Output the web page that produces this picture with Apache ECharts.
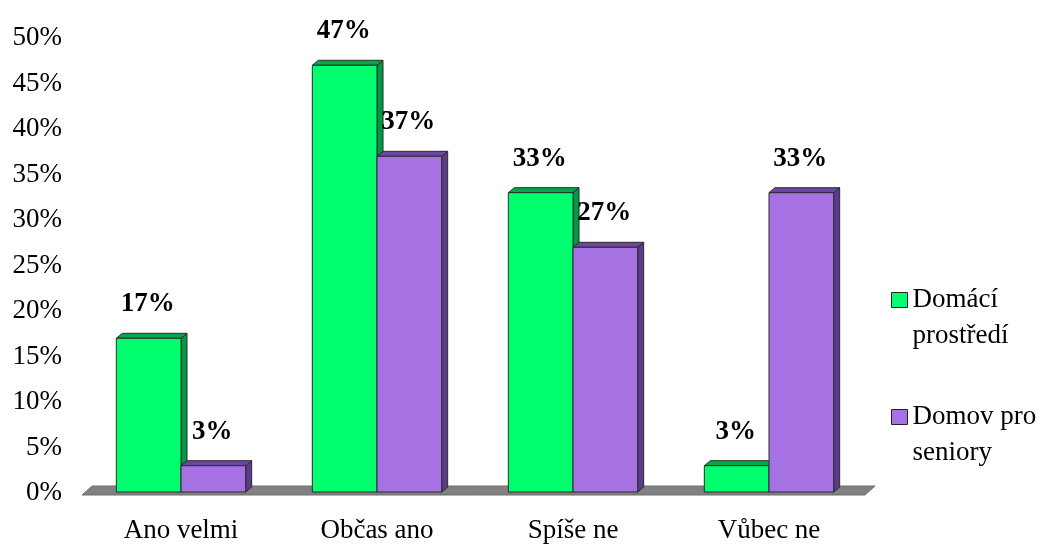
<!DOCTYPE html>
<html>
<head>
<meta charset="utf-8">
<script src="https://cdn.jsdelivr.net/npm/echarts@6/dist/echarts.min.js"></script>
<style>
  html, body { margin: 0; padding: 0; background: #fff; }
  #chart { width: 1045px; height: 544px; }
</style>
</head>
<body>
<div id="chart"></div>
<script>
// Answers by category, in percent
const categories = ['Ano velmi', 'Občas ano', 'Spíše ne', 'Vůbec ne'];
const homeValues = [17, 47, 33, 3];      // Domácí prostředí
const seniorValues = [3, 37, 27, 33];    // Domov pro seniory
const seriesNames = ['Domácí prostředí', 'Domov pro seniory'];

const FONT = '"Liberation Serif", "Times New Roman", serif';
const palette = [
  { front: '#00FF6E', side: '#009A44', top: '#00A84A' },
  { front: '#A671E2', side: '#5A3C8C', top: '#6B47A3' }
];
const DEPTH_X = 6, DEPTH_Y = 5;

// Draws one bar as a box: front face, top face and right side face
function makeBarRenderer(seriesIdx) {
  return function (params, api) {
    const cat = api.value(0);
    const val = api.value(1);
    const base = api.coord([cat, 0]);
    const topPt = api.coord([cat, val]);
    const band = api.size([1, 0])[0];
    const w = band * 0.33;
    const x0 = seriesIdx === 0 ? base[0] - w : base[0];
    const x1 = x0 + w;
    const yb = base[1] - 1;
    const yt = topPt[1];
    const c = palette[seriesIdx];
    const stroke = { stroke: '#2b2b2b', lineWidth: 1 };
    return {
      type: 'group',
      children: [
        {
          type: 'polygon',
          shape: { points: [[x1, yb], [x1 + DEPTH_X, yb - DEPTH_Y], [x1 + DEPTH_X, yt - DEPTH_Y], [x1, yt]] },
          style: Object.assign({ fill: c.side }, stroke)
        },
        {
          type: 'polygon',
          shape: { points: [[x0, yt], [x0 + DEPTH_X, yt - DEPTH_Y], [x1 + DEPTH_X, yt - DEPTH_Y], [x1, yt]] },
          style: Object.assign({ fill: c.top }, stroke)
        },
        {
          type: 'rect',
          shape: { x: x0, y: yt, width: w, height: yb - yt },
          style: Object.assign({ fill: c.front }, stroke)
        },
        {
          type: 'text',
          style: {
            x: (x0 + x1) / 2 - 1,
            y: yt - 34,
            text: val + '%',
            align: 'center',
            verticalAlign: 'middle',
            font: 'bold 27px ' + FONT,
            fill: '#000'
          }
        }
      ]
    };
  };
}

// Gray floor under the bars
function renderFloor(params, api) {
  const cs = params.coordSys;
  const y0 = api.coord([0, 0])[1];
  const left = cs.x - 1, right = cs.x + cs.width - 2;
  const yf = y0 + 2, yb = y0 - 7;
  return {
    type: 'polygon',
    shape: { points: [[left, yf], [right, yf], [right + 10, yb], [left + 10, yb]] },
    style: { fill: '#808080', stroke: '#6f6f6f', lineWidth: 1 },
    silent: true
  };
}

const chart = echarts.init(document.getElementById('chart'), null, { renderer: 'canvas' });

chart.setOption({
  animation: false,
  backgroundColor: '#fff',
  grid: { left: 83, right: 178, top: 38, bottom: 50 },
  xAxis: {
    type: 'category',
    data: categories,
    axisLine: { show: false },
    axisTick: { show: false },
    axisLabel: { margin: 24, color: '#000', fontFamily: FONT, fontSize: 27 }
  },
  yAxis: {
    type: 'value',
    min: 0, max: 50, interval: 5,
    axisLine: { show: false },
    axisTick: { show: false },
    splitLine: { show: false },
    axisLabel: { formatter: '{value}%', margin: 21, color: '#000', fontFamily: FONT, fontSize: 27 }
  },
  legend: {
    orient: 'vertical',
    left: 886,
    top: 241,
    itemWidth: 16,
    itemHeight: 15,
    itemGap: 9,
    icon: 'rect',
    data: seriesNames.map((n, i) => ({
      name: n,
      itemStyle: { color: palette[i].front, borderColor: '#222', borderWidth: 1 }
    })),
    // leading empty line keeps the first text line level with the swatch
    formatter: function (name) {
      return name === seriesNames[0] ? '\nDomácí\nprostředí' : '\nDomov pro\nseniory';
    },
    textStyle: {
      color: '#000', fontFamily: FONT, fontSize: 27, lineHeight: 36
    }
  },
  series: [
    {
      type: 'custom',
      name: 'floor',
      silent: true,
      z: 1,
      renderItem: renderFloor,
      data: [[0, 0]],
      encode: { x: 0, y: 1 }
    },
    {
      type: 'custom',
      name: seriesNames[0],
      z: 2,
      itemStyle: { color: palette[0].front },
      renderItem: makeBarRenderer(0),
      data: homeValues.map((v, i) => [i, v]),
      encode: { x: 0, y: 1 }
    },
    {
      type: 'custom',
      name: seriesNames[1],
      z: 2,
      itemStyle: { color: palette[1].front },
      renderItem: makeBarRenderer(1),
      data: seniorValues.map((v, i) => [i, v]),
      encode: { x: 0, y: 1 }
    }
  ]
});
</script>
</body>
</html>
